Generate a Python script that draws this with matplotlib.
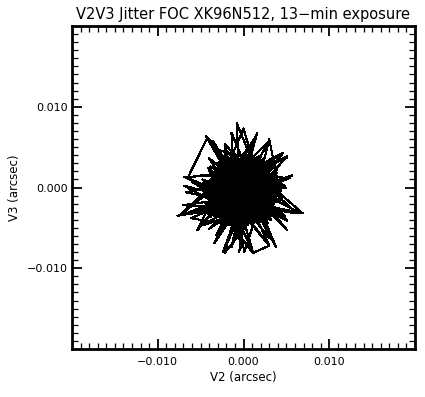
import numpy as np
import matplotlib
matplotlib.use("Agg")
import matplotlib.pyplot as plt
from matplotlib.ticker import MultipleLocator

# jitter track, in milli-arcsec (stretches joined in order)
v2_a = [
    0.2, -1.5, 2.1, -3.0, 1.4, 3.6, -2.2, 0.8, -0.6, 2.9,
    -3.8, 1.0, 4.1, -1.2, 0.5, -2.7, 3.3, -4.2, 2.0, -0.3,
    -0.8, 1.5, 2.4, 6.9, 1.8, -3.5, 0.0, 3.9, -1.7, 1.2,
    -4.2, -6.5, -2.8, 2.7, -0.4, 1.9, -2.4, 4.3, 0.6, -1.0,
    3.0, -3.1, 1.1, -0.2, -2.2, 0.1, 2.6, -1.4, 3.5, -3.9,
    0.9, -1.9, 2.2, -0.7, 3.0, -2.6, 1.6, -3.4, 0.3, 4.6,
    1.5, -1.1, 2.8, -3.0, 0.7, -0.9, 3.8, -2.5, 1.3, -6.9,
    -2.0, 2.4, 0.4, -3.7, 2.0, -1.3, 1.0, 3.2, -0.1, -4.0,
    -5.4, 0.2, 2.9, -1.6, 1.7, -2.9, 0.6, 5.7, 3.4, -0.5,
    -2.3, 1.9, 3.7, -0.9, -3.3, 0.9, 2.5, -1.8, 1.4, 3.0,
]
v3_a = [
    -0.5, 2.3, -1.8, 0.9, 3.1, -0.4, -3.2, 1.7, -2.6, 1.2,
    -1.4, -3.9, 0.6, 3.5, -1.0, 2.8, -2.7, 0.2, 3.8, -4.3,
    8.0, 2.0, -2.2, -3.2, 1.5, -2.0, 4.2, 2.2, -3.6, -0.8,
    6.2, 1.2, -0.6, -4.0, 1.0, 3.9, 1.8, -1.6, -2.9, 0.4,
    2.9, -3.4, -1.2, 3.0, 5.4, -8.0, 0.3, -1.9, 2.6, 1.6,
    -3.5, 2.6, -0.1, -2.4, -7.2, 0.5, 3.3, 4.8, -1.5, 4.3,
    -0.3, -3.0, 1.9, -1.0, 2.5, 0.9, -3.0, 3.4, -2.0, 0.2,
    -2.6, 3.6, -3.9, 2.0, 0.8, -1.4, 3.0, -0.6, 1.3, -2.3,
    -5.3, 1.8, -1.3, 0.1, -3.3, 2.2, -0.9, 1.5, 0.7, 2.7,
    -1.2, -2.1, 1.2, -4.1, 0.8, 2.4, -2.8, 3.8, -1.0, 6.0,
]

v2_b = [
    4.2, -3.7, 3.85, -2.5, 2.0, -1.1, 0.0, 1.05, -2.2, 2.5,
    -3.5, 4.3, -4.2, 3.7, -3.5, 3.1, -1.8, 1.05, 0.0, -1.1,
    1.9, -2.8, 3.85, -3.5, 1.5, -2.2, 3.6, -4.1, 3.5, -3.1,
    2.1, -0.95, 0.0, 1.0, -1.9, 2.95, -3.85, 3.9, -3.8, 3.9,
    -3.85, 2.95, -1.9, 1.1, -0.5, 0.0, -1.05, 2.2, -2.8, 3.3,
    5.1, -4.3, 4.8,
]
v3_b = [
    -0.4, 0.55, -2.6, 2.1, -3.9, 3.9, -4.2, 3.7, -4.25, 2.1,
    -2.4, 0.7, -0.4, -1.35, 1.6, -3.5, 2.75, -4.5, 3.6, -4.7,
    2.9, -3.2, 1.8, -1.3, 6.4, -8.1, -0.4, -1.45, 1.6, -3.5,
    3.3, -4.1, 4.0, -4.3, 2.9, -3.35, 1.8, -1.4, -0.4, 0.6,
    -2.6, 2.55, -3.7, 3.9, -8.0, -4.4, 3.7, -4.25, 2.4, -2.3,
    -4.1, 0.7, 0.2,
]

v2_c = [
    1.0, -2.1, -4.1, 0.0, 2.3, -1.1, 4.0, -2.6, 0.5, 1.8,
    -3.4, -7.5, -1.5, 2.6, 0.2, -0.7, 3.3, -2.7, 1.2, 4.8,
    1.6, -1.8, 0.8, -3.2, 2.0, -0.2, 3.6, -2.2, 1.1, -4.3,
    1.1, 3.0, -1.0, 2.3, -2.4, 0.4, -3.4, 2.7, -0.5, 1.5,
    -2.0, 5.1, 0.3, -1.5, 3.2, -2.8, 0.9, -0.8, 2.1, -3.6,
    0.0, 1.9, -2.4, 4.1, -0.3, 1.0, -3.9, 2.4, -1.2, 0.6,
    -2.9, 2.8, 0.8, -1.6, 3.5, -0.6, 1.7, -3.1, 0.1, 2.2,
    -3.4, -1.0, 6.2, 2.0, -2.5, 0.4, -1.3, 3.1, -3.8, 1.3,
    -0.4, 2.6, -2.1, 1.5, -4.0, 0.7, 3.8, -1.5, 0.2, -2.4,
    4.6, 0.8, -1.9, 2.9, -0.2, -6.7, -2.7, 1.4, -0.7, 0.3,
    4.4, -1.0, -3.15, 2.95, 2.2, -3.9, 0.0, 4.1, -2.2, -2.8,
    3.15, 1.05, -4.4, 1.0, 3.15, -2.95, -2.2, 3.9, 0.0, -4.1,
    2.2, 2.8, -3.15, -1.05, 4.0, 0.6, -3.5, -1.7, 2.0, 2.35,
    0.0, -2.35, -2.0, 1.7, 3.5, -0.6, -4.0, -0.6, 3.5, 1.7,
    -2.0, -2.35, 0.0, 2.35, 2.0, -1.7, -3.5, 0.6,
]
v3_c = [
    1.4, -2.9, 2.4, -1.7, 3.2, 1.1, -0.8, -1.8, -3.2, 0.0,
    0.5, -3.5, 1.6, -2.3, 3.7, -0.3, 1.7, -3.7, 2.1, 0.2,
    -1.5, 0.6, -4.2, 3.0, 2.7, -1.1, -2.1, 1.0, 0.3, -0.8,
    -8.1, -7.2, 2.1, -0.5, -2.2, 3.4, -1.5, 1.0, -2.7, 2.8,
    0.0, 3.9, -1.9, 4.0, -2.4, 1.3, 0.8, -3.3, 1.5, -1.7,
    7.3, 0.4, -3.8, -0.6, 2.9, -2.6, 0.9, 1.9, -0.4, -3.6,
    3.2, -1.1, 2.3, -2.5, 0.5, 1.4, -3.1, -0.2, -1.6, 2.0,
    -6.9, -2.0, -3.2, 0.9, 2.6, -0.9, 3.5, -1.7, 1.1, -3.0,
    1.9, 3.0, -0.7, -2.0, -1.0, 4.1, 0.6, -3.8, 0.5, 1.4,
    -1.2, -2.6, 0.2, 1.7, -0.6, -3.2, -2.8, 2.5, 1.0, -0.5,
    -0.4, 3.5, -2.2, -3.35, 3.45, 0.6, -4.0, 0.65, 3.45, -3.2,
    -2.2, 3.7, -0.4, -4.3, 1.4, 2.55, -4.25, -1.4, 3.2, -1.45,
    -4.25, 2.4, 1.4, -4.5, -0.4, 1.95, 1.6, -2.1, -3.9, 0.2,
    3.6, 0.2, -3.9, -2.1, 1.6, 1.95, -0.4, -2.75, -2.4, 1.3,
    3.1, -1.0, -4.4, -1.0, 3.1, 1.3, -2.4, -2.75,
]

v2_d = [
    -4.4, 2.0, -3.6, 1.0, -4.0, 3.2, -2.2, -1.0, -1.4, 2.8,
    0.7, -3.8, 1.6, -2.6, 3.0, -4.6, 4.6, -4.9, 5.1, -4.7,
    3.6, -4.4, 5.4, -4.9, 5.0, -3.9, 6.7, -4.8, 4.8, -2.8,
    5.1, -1.6, 3.8, -0.4, 3.0, -3.4, 1.1, -2.0, -0.3, 0.8,
    -1.4, 2.2, -2.4, 1.4, -3.2, 3.3, -4.0, 3.6, -4.8, 3.7,
    -7.7, 3.4, -7.1, 3.8, -6.7, 2.6, -6.9, 3.5, -6.0, 2.9,
    -5.5, 3.9, -6.1, 0.2,
    -4.5, 3.5, -4.0, 2.5, -3.0, 3.6, -4.7, 1.5, -1.0, -2.5,
    3.7, -4.8, 0.5, -3.5, 2.8, -4.2, 3.2, -1.8, -4.9, 1.0,
]
v3_d = [
    6.4, -3.5, 5.8, -4.6, 3.6, -2.5, 4.9, -4.9, 6.8, -4.0,
    5.2, -3.6, 6.7, -4.8, 5.8, -2.4, 4.3, -1.0, 3.7, 0.6,
    3.1, -3.2, 1.2, 1.6, -0.1, 2.6, -3.2, -1.8, -3.5, 3.0,
    -5.3, 3.2, -7.4, 3.3, -6.3, 2.4, -8.0, 3.4, -7.5, 3.2,
    -7.4, 2.6, -8.0, 2.9, -5.9, 1.5, -5.1, 0.4, -4.7, -1.6,
    -3.5, -0.6, -2.2, -2.8, -0.6, 1.8, 1.3, -3.6, 0.65, -4.4,
    -3.0, 0.9, -3.8, -5.0,
    -0.5, -1.0, 2.0, -4.2, -4.3, 1.8, -3.0, 3.0, -4.7, 3.0,
    -3.0, 1.0, -4.6, -3.5, 2.6, -2.0, -4.0, 2.9, 0.0, -3.5,
]

tick_vals = [-0.010, 0.0, 0.010]
tick_labels = ["\u22120.010", "0.000", "0.010"]

def main():
    v2 = np.array(v2_a + v2_b + v2_c + v2_d) / 1000.0
    v3 = np.array(v3_a + v3_b + v3_c + v3_d) / 1000.0

    fig = plt.figure(figsize=(4.25, 3.97), dpi=100)
    ax = fig.add_axes([72 / 425, 1 - 349 / 397, 343 / 425, 323 / 397])
    ax.plot(v2, v3, color="black", lw=0.8, antialiased=False)

    ax.set_xlim(-0.02, 0.02)
    ax.set_ylim(-0.02, 0.02)
    ax.set_xticks(tick_vals)
    ax.set_xticklabels(tick_labels)
    ax.set_yticks(tick_vals)
    ax.set_yticklabels(tick_labels)
    ax.xaxis.set_minor_locator(MultipleLocator(0.001))
    ax.yaxis.set_minor_locator(MultipleLocator(0.001))
    ax.tick_params(which="both", direction="in", top=True, right=True,
                   labelsize=8, color="black")
    ax.tick_params(which="major", length=7, width=1.3)
    ax.tick_params(which="minor", length=4, width=0.9)
    ax.tick_params(axis="x", pad=6)
    ax.tick_params(axis="y", pad=3)
    for s in ax.spines.values():
        s.set_linewidth(2)

    ax.set_xlabel("V2 (arcsec)", fontsize=8.5, labelpad=3)
    ax.set_ylabel("V3 (arcsec)", fontsize=8.5, labelpad=4)
    ax.set_title("V2V3 Jitter FOC XK96N512, 13\u2212min exposure",
                 fontsize=10.5, pad=5)

    fig.savefig("out.png", dpi=100)

if __name__ == '__main__':
    main()
